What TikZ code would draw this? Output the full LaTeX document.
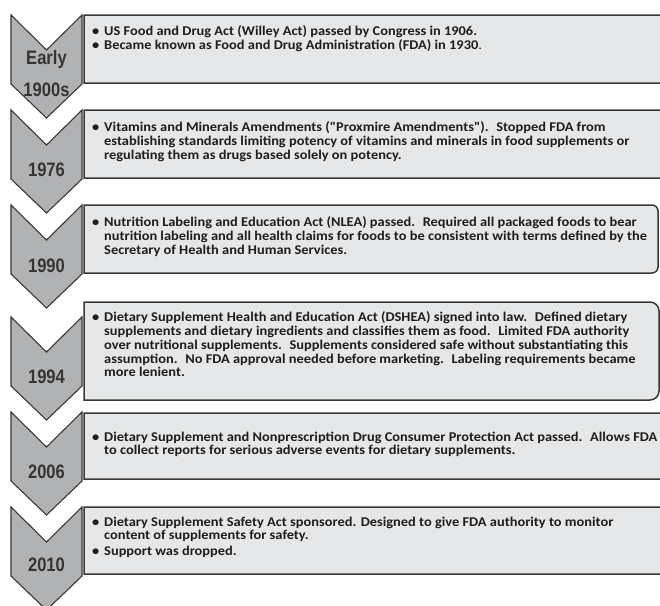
\documentclass[tikz,border=0pt]{standalone}
\usepackage{fontspec}
\newfontfamily\entryfont{Carlito}[FakeStretch=1.075]
\newfontfamily\yearfont{Liberation Sans}[FakeStretch=0.85]
\usepackage{xcolor}
\usepackage{tikz}
\definecolor{ink}{HTML}{1E1E1E}
\definecolor{edge}{HTML}{383838}
\definecolor{chevgray}{HTML}{B1B2B4}
\definecolor{boxgray}{HTML}{E6E7E8}
\newcommand{\entrybullet}{\makebox[12pt][l]{\textbullet}}
\newcommand{\entryindent}{\hspace*{12pt}}
\tikzset{
  chevronshape/.style={draw=edge, fill=chevgray, line width=1.1pt, line join=miter},
  entrybox/.style={draw=edge, fill=boxgray, line width=1.5pt},
  yearlabel/.style={font=\yearfont\bfseries\fontsize{19.5}{32}\selectfont, text=ink!90, align=center, inner sep=0pt},
  entrytext/.style={font=\entryfont\bfseries\fontsize{13.4}{13.8}\selectfont, text=ink, align=left, inner sep=0pt, anchor=north west},
  yearmark/.pic={
    \path[chevronshape] (-35.5,0) -- (0,35) -- (35.5,0) -- (35.5,69) -- (0,103) -- (-35.5,69) -- cycle;
  }
}

\begin{document}
\begin{tikzpicture}[x=1pt, y=-1pt]
  \path[use as bounding box] (0,0) rectangle (660,605);
  \clip (0,0) rectangle (660,605);

  % chevrons down the left side
  \pic (cEarly) at (46.5,15)  {yearmark};
  \pic (c1976)  at (46.5,110) {yearmark};
  \pic (c1990)  at (46.5,205) {yearmark};
  \pic (c1994)  at (46.5,317) {yearmark};
  \pic (c2006)  at (46.5,412) {yearmark};
  \pic (c2010)  at (46.5,507) {yearmark};

  \node[yearlabel] (yEarly) at (46.5,74)  {Early\\1900s};
  \node[yearlabel] (y1976)  at (46.5,170) {1976};
  \node[yearlabel] (y1990)  at (46.5,266) {1990};
  \node[yearlabel] (y1994)  at (46.5,377) {1994};
  \node[yearlabel] (y2006)  at (46.5,472) {2006};
  \node[yearlabel] (y2010)  at (46.5,565) {2010};

  % text panels, rounded on the right only
  \path[entrybox] (84,15)  [rounded corners=6] -- (690,15)  -- (690,83)  [sharp corners] -- (84,83)  -- cycle;
  \path[entrybox] (84,110) [rounded corners=6] -- (690,110) -- (690,178) [sharp corners] -- (84,178) -- cycle;
  \path[entrybox] (84,205) [rounded corners=6] -- (658,205) -- (658,273) [sharp corners] -- (84,273) -- cycle;
  \path[entrybox] (84,302) [rounded corners=9] -- (659,302) -- (659,400) [sharp corners] -- (84,400) -- cycle;
  \path[entrybox] (84,413) [rounded corners=6] -- (690,413) -- (690,479) [sharp corners] -- (84,479) -- cycle;
  \path[entrybox] (84,507) [rounded corners=6] -- (690,507) -- (690,574) [sharp corners] -- (84,574) -- cycle;

  \node[entrytext] (tEarly) at (92,25.5) {%
    \entrybullet US Food and Drug Act (Willey Act) passed by Congress in 1906.\\
    \entrybullet Became known as Food and Drug Administration (FDA) in 1930\textmd{.}};
  \node[entrytext] (t1976) at (92,121.5) {%
    \entrybullet Vitamins and Minerals Amendments ("Proxmire Amendments").~ Stopped FDA from\\
    \entryindent establishing standards limiting potency of vitamins and minerals in food supplements or\\
    \entryindent regulating them as drugs based solely on potency.};
  \node[entrytext] (t1990) at (92,216.5) {%
    \entrybullet Nutrition Labeling and Education Act (NLEA) passed.~ Required all packaged foods to bear\\
    \entryindent nutrition labeling and all health claims for foods to be consistent with terms defined by the\\
    \entryindent Secretary of Health and Human Services.};
  \node[entrytext] (t1994) at (92,311.5) {%
    \entrybullet Dietary Supplement Health and Education Act (DSHEA) signed into law.~ Defined dietary\\
    \entryindent supplements and dietary ingredients and classifies them as food.~ Limited FDA authority\\
    \entryindent over nutritional supplements.~ Supplements considered safe without substantiating this\\
    \entryindent assumption.~ No FDA approval needed before marketing.~ Labeling requirements became\\
    \entryindent more lenient.};
  \node[entrytext] (t2006) at (92,431.5) {%
    \entrybullet Dietary Supplement and Nonprescription Drug Consumer Protection Act passed.~ Allows FDA\\
    \entryindent to collect reports for serious adverse events for dietary supplements.};
  \node[entrytext] (t2010) at (92,516.5) {%
    \entrybullet Dietary Supplement Safety Act sponsored. Designed to give FDA authority to monitor\\
    \entryindent content of supplements for safety.\\[2pt]
    \entrybullet Support was dropped.};
\end{tikzpicture}
\end{document}
